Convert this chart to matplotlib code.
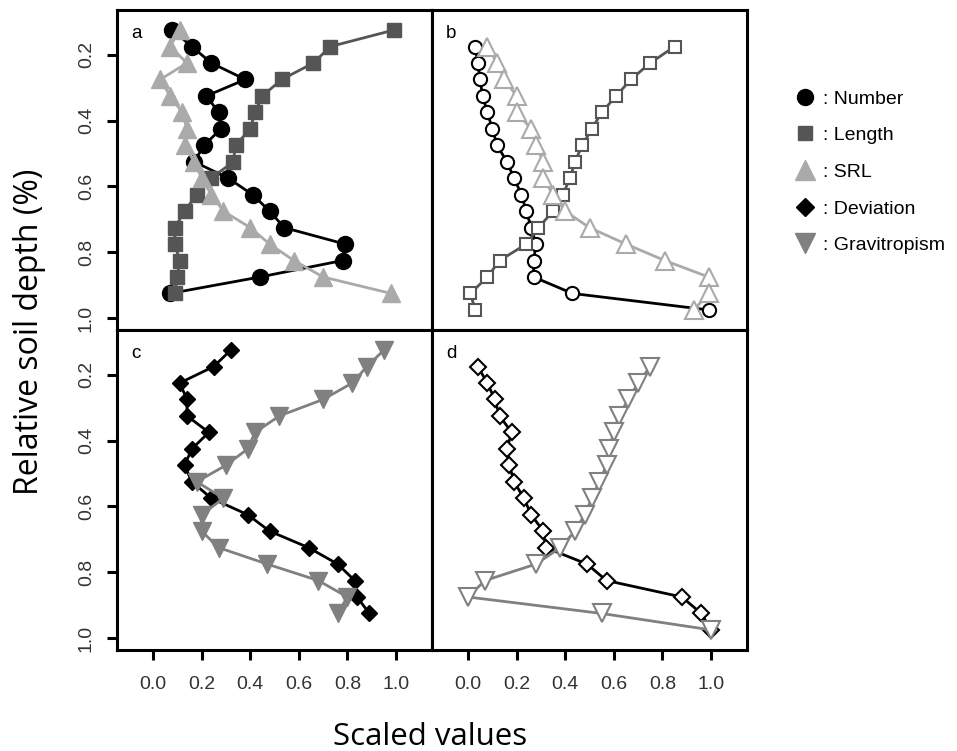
import matplotlib
matplotlib.use("Agg")
import matplotlib.pyplot as plt
from matplotlib.lines import Line2D

# depth levels (a/c share one set, b/d the other)
depth_ac = [0.125, 0.175, 0.225, 0.275, 0.325, 0.375, 0.425, 0.475, 0.525,
            0.575, 0.625, 0.675, 0.725, 0.775, 0.825, 0.875, 0.925]
depth_bd = [0.175, 0.225, 0.275, 0.325, 0.375, 0.425, 0.475, 0.525, 0.575,
            0.625, 0.675, 0.725, 0.775, 0.825, 0.875, 0.925, 0.975]

# panel a
a_number = [0.08, 0.16, 0.24, 0.38, 0.22, 0.27, 0.28, 0.21, 0.17, 0.31, 0.41,
            0.48, 0.54, 0.79, 0.78, 0.44, 0.07]
a_length = [0.99, 0.73, 0.66, 0.53, 0.45, 0.42, 0.40, 0.34, 0.33, 0.24, 0.18,
            0.13, 0.09, 0.09, 0.11, 0.10, 0.09]
a_srl = [0.11, 0.07, 0.14, 0.03, 0.07, 0.12, 0.14, 0.13, 0.17, 0.20, 0.24,
         0.29, 0.40, 0.48, 0.58, 0.70, 0.98]

# panel b
b_number = [0.03, 0.04, 0.05, 0.06, 0.08, 0.10, 0.12, 0.16, 0.19, 0.22, 0.24,
            0.26, 0.28, 0.27, 0.27, 0.43, 0.99]
b_length = [0.85, 0.75, 0.67, 0.61, 0.55, 0.51, 0.47, 0.44, 0.42, 0.39, 0.35,
            0.29, 0.24, 0.13, 0.08, 0.01, 0.03]
b_srl = [0.08, 0.12, 0.15, 0.20, 0.20, 0.26, 0.28, 0.31, 0.31, 0.35, 0.40,
         0.50, 0.65, 0.81, 0.99, 0.99, 0.93]

# panel c
c_deviation = [0.32, 0.25, 0.11, 0.14, 0.14, 0.23, 0.16, 0.13, 0.16, 0.24,
               0.39, 0.48, 0.64, 0.76, 0.83, 0.84, 0.89]
c_gravitropism = [0.95, 0.88, 0.82, 0.70, 0.52, 0.42, 0.39, 0.30, 0.18, 0.29,
                  0.20, 0.20, 0.27, 0.47, 0.68, 0.80, 0.76]

# panel d
d_deviation = [0.04, 0.08, 0.11, 0.13, 0.18, 0.16, 0.17, 0.19, 0.23, 0.26,
               0.31, 0.32, 0.49, 0.57, 0.88, 0.96, 1.00]
d_gravitropism = [0.75, 0.70, 0.66, 0.62, 0.60, 0.58, 0.57, 0.54, 0.51, 0.48,
                  0.44, 0.38, 0.28, 0.07, 0.00, 0.55, 1.00]

x_ticks = [0.0, 0.2, 0.4, 0.6, 0.8, 1.0]
y_ticks = [0.2, 0.4, 0.6, 0.8, 1.0]

BLACK = "black"
DARK = "#555555"
LIGHT = "#aaaaaa"
MID = "#808080"

TICKFONT = "Liberation Sans"
LABELFONT = "Open Sans"

fig = plt.figure(figsize=(9.57, 7.51), dpi=100)
W, H = 957, 751


def make_ax(l, t, r, b):
    return fig.add_axes([l / W, 1 - b / H, (r - l) / W, (b - t) / H])


ax_a = make_ax(117, 10, 432, 330)
ax_b = make_ax(432, 10, 747, 330)
ax_c = make_ax(117, 330, 432, 650)
ax_d = make_ax(432, 330, 747, 650)

# panel a: filled markers
ax_a.plot(a_number, depth_ac, color=BLACK, lw=2.0, marker="o", ms=11.5, mec=BLACK)
ax_a.plot(a_length, depth_ac, color=DARK, lw=2.0, marker="s", ms=9.5, mec=DARK)
ax_a.plot(a_srl, depth_ac, color=LIGHT, lw=2.0, marker="^", ms=13, mec=LIGHT)

# panel b: open markers
ax_b.plot(b_number, depth_bd, color=BLACK, lw=2.0, marker="o", ms=9.5, mfc="white", mew=1.5)
ax_b.plot(b_length, depth_bd, color=DARK, lw=2.0, marker="s", ms=9, mfc="white", mew=1.5)
ax_b.plot(b_srl, depth_bd, color=LIGHT, lw=2.0, marker="^", ms=13, mfc="white", mew=1.5)

# panel c
ax_c.plot(c_deviation, depth_ac, color=BLACK, lw=2.0, marker="D", ms=8.5, mec=BLACK)
ax_c.plot(c_gravitropism, depth_ac, color=MID, lw=2.0, marker="v", ms=13, mec=MID)

# panel d
ax_d.plot(d_deviation, depth_bd, color=BLACK, lw=2.0, marker="D", ms=8, mfc="white", mew=1.5)
ax_d.plot(d_gravitropism, depth_bd, color=MID, lw=2.0, marker="v", ms=13, mfc="white", mew=1.5)

for ax, letter in zip([ax_a, ax_b, ax_c, ax_d], "abcd"):
    ax.set_xlim(-0.148, 1.148)
    ax.set_ylim(1.036, 0.064)
    for sp in ax.spines.values():
        sp.set_linewidth(2.2)
    ax.text(0.045, 0.925, letter, transform=ax.transAxes, fontsize=13.5,
            family=TICKFONT, ha="left", va="center")
    ax.tick_params(length=7, width=2.2, labelsize=14, pad=12)
    ax.set_xticks(x_ticks)
    ax.set_yticks(y_ticks)

for ax in [ax_a, ax_b]:
    ax.tick_params(axis="x", bottom=False, labelbottom=False)
for ax in [ax_b, ax_d]:
    ax.tick_params(axis="y", left=False, labelleft=False)

for ax in [ax_c, ax_d]:
    ax.set_xticklabels([f"{v:.1f}" for v in x_ticks], family=TICKFONT, color="#333333")
for ax in [ax_a, ax_c]:
    ax.tick_params(axis="y", pad=9)
    ax.set_yticklabels([f"{v:.1f}" for v in y_ticks], family=TICKFONT, color="#333333",
                       rotation=90, va="center")

fig.text(430 / W, 1 - 737 / H, "Scaled values", family=LABELFONT, fontsize=22.5,
         ha="center", va="center")
fig.text(30 / W, 1 - 332 / H, "Relative soil depth (%)", family=LABELFONT, fontsize=23,
         rotation=90, ha="center", va="center")

handles = [
    Line2D([], [], ls="none", marker="o", ms=11.5, color=BLACK),
    Line2D([], [], ls="none", marker="s", ms=10, color=DARK),
    Line2D([], [], ls="none", marker="^", ms=14, color=LIGHT),
    Line2D([], [], ls="none", marker="D", ms=9, color=BLACK),
    Line2D([], [], ls="none", marker="v", ms=14, color=MID),
]
labels = [": Number", ": Length", ": SRL", ": Deviation", ": Gravitropism"]
fig.legend(handles, labels, loc="upper left", bbox_to_anchor=(795 / W, 1 - 90 / H),
           frameon=False, handlelength=1.0, handletextpad=0.45, labelspacing=0.98,
           borderpad=0, borderaxespad=0, prop={"family": TICKFONT, "size": 14})

fig.savefig("out.png", dpi=100)
